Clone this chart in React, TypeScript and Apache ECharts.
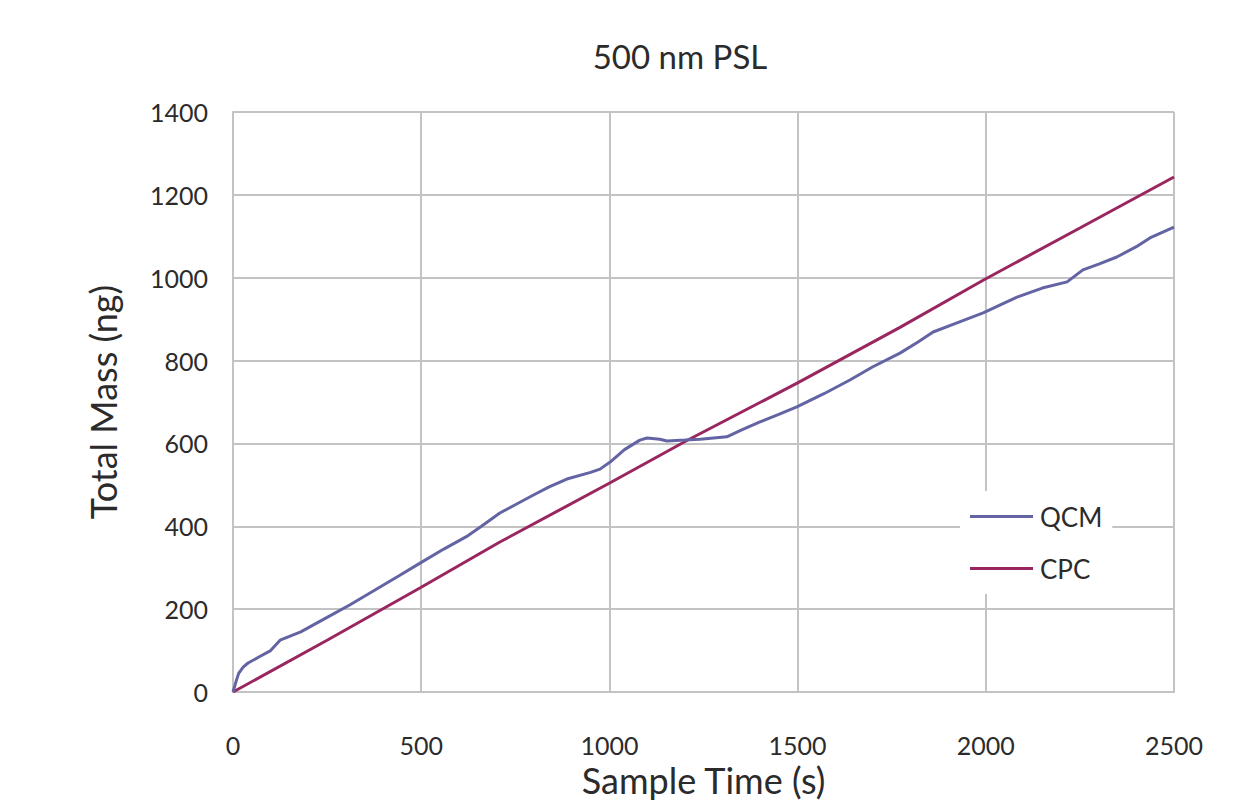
import React, { useEffect, useRef } from "react";
import * as echarts from "echarts";

const qcmTime = [0, 8, 15, 27, 40, 70, 100, 125, 180, 250, 310, 375, 440, 497, 560, 620, 660, 709, 750, 797, 840, 887, 950, 975, 1002, 1040, 1081, 1100, 1134, 1153, 1200, 1241, 1312, 1350, 1400, 1450, 1498, 1570, 1639, 1700, 1772, 1820, 1860, 1920, 1993, 2040, 2083, 2150, 2216, 2258, 2300, 2348, 2400, 2436, 2500];
const qcmMass = [0, 25, 45, 60, 70, 85, 100, 125, 145, 180, 210, 245, 280, 311, 345, 375, 400, 432, 452, 475, 495, 514, 530, 538, 555, 585, 608, 613, 610, 606, 608, 610, 616, 632, 652, 670, 688, 720, 753, 785, 818, 845, 869, 890, 915, 935, 953, 975, 990, 1019, 1033, 1050, 1075, 1096, 1122];

const cpcTime = [0, 250, 500, 709, 1002, 1206, 1500, 1772, 1993, 2250, 2500];
const cpcMass = [0, 125, 253, 362, 505, 607, 746, 880, 994, 1120, 1243];

const xTicks = [0, 500, 1000, 1500, 2000, 2500];
const yTicks = [0, 200, 400, 600, 800, 1000, 1200, 1400];

const FONT = "Lato";
const TEXT = "#2b2b2b";

export default function App() {
  const ref = useRef<HTMLDivElement>(null);
  useEffect(() => {
    const chart = echarts.init(ref.current!, undefined, { renderer: "svg" });
    const grid = { lineStyle: { color: "#c3c3c3", width: 2 } };
    chart.setOption({
      animation: false,
      backgroundColor: "#ffffff",
      textStyle: { fontFamily: FONT },
      title: {
        text: "500 nm PSL",
        left: 675,
        top: 34,
        textAlign: "center",
        textStyle: { fontFamily: FONT, fontSize: 33, fontWeight: "normal", color: TEXT },
      },
      grid: { left: 233, right: 65, top: 112, bottom: 111 },
      legend: {
        orient: "vertical",
        left: 960,
        top: 491,
        backgroundColor: "#ffffff",
        padding: [12, 10, 12, 10],
        itemWidth: 63,
        itemHeight: 3,
        itemGap: 25,
        icon: "rect",
        textStyle: { fontFamily: FONT, fontSize: 26, color: TEXT, lineHeight: 27, padding: [0, 0, 0, 2] },
        data: ["QCM", "CPC"],
      },
      xAxis: {
        type: "value",
        min: 0,
        max: 2500,
        interval: 500,
        name: "Sample Time (s)",
        nameLocation: "middle",
        nameGap: 59,
        nameTextStyle: { fontFamily: FONT, fontSize: 36, color: TEXT },
        axisLine: { show: true, lineStyle: { color: "#c3c3c3", width: 2 } },
        axisTick: { show: false },
        axisLabel: {
          fontFamily: FONT, fontSize: 25, color: TEXT, margin: 40,
          formatter: (v: number) => (xTicks.includes(v) ? String(v) : ""),
        },
        splitLine: { show: true, ...grid },
      },
      yAxis: {
        type: "value",
        min: 0,
        max: 1400,
        interval: 200,
        name: "Total Mass (ng)",
        nameLocation: "middle",
        nameGap: 112,
        nameRotate: 90,
        nameTextStyle: { fontFamily: FONT, fontSize: 36, color: TEXT },
        axisLine: { show: true, lineStyle: { color: "#c3c3c3", width: 2 } },
        axisTick: { show: false },
        axisLabel: {
          fontFamily: FONT, fontSize: 25, color: TEXT, margin: 25,
          formatter: (v: number) => (yTicks.includes(v) ? String(v) : ""),
        },
        splitLine: { show: true, ...grid },
      },
      series: [
        {
          name: "QCM",
          type: "line",
          data: qcmTime.map((t, i) => [t, qcmMass[i]]),
          showSymbol: false,
          symbol: "none",
          lineStyle: { color: "#6464a4", width: 3 },
          itemStyle: { color: "#6464a4" },
          z: 3,
        },
        {
          name: "CPC",
          type: "line",
          data: cpcTime.map((t, i) => [t, cpcMass[i]]),
          showSymbol: false,
          symbol: "none",
          lineStyle: { color: "#9a2660", width: 3 },
          itemStyle: { color: "#9a2660" },
          z: 2,
        },
      ],
    });
    return () => chart.dispose();
  }, []);
  return (
    <div
      ref={ref}
      style={{ position: "fixed", left: 0, top: 0, width: 1239, height: 803 }}
    />
  );
}
